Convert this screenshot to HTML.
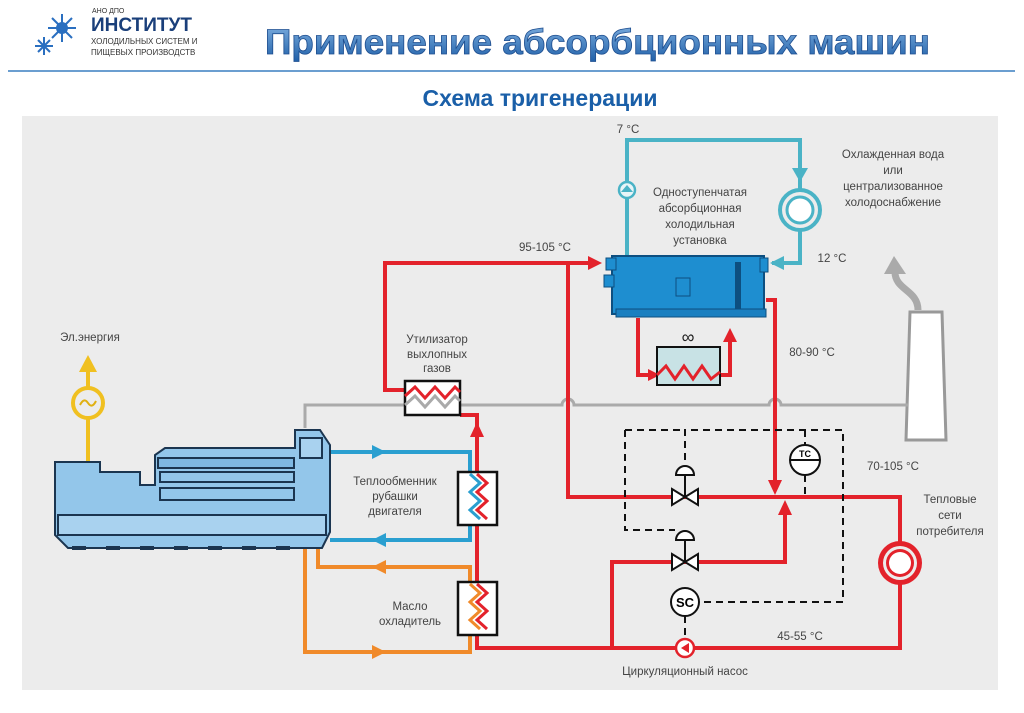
<!DOCTYPE html>
<html><head><meta charset="utf-8"><style>
body{margin:0;width:1024px;height:708px;background:#fff;overflow:hidden;font-family:"Liberation Sans",sans-serif}
</style></head><body>
<svg width="1024" height="708" viewBox="0 0 1024 708" xmlns="http://www.w3.org/2000/svg" font-family="Liberation Sans, sans-serif">
<defs>
<linearGradient id="tg" x1="0" y1="0" x2="0" y2="1"><stop offset="0" stop-color="#7fb0e0"/><stop offset="1" stop-color="#1f5fa8"/></linearGradient>
</defs>
<!-- header -->
<g fill="#2a6fc0" stroke="#2a6fc0" stroke-width="2">
<g transform="translate(62,28)"><line x1="-14" y1="0" x2="14" y2="0"/><line x1="0" y1="-14" x2="0" y2="14"/><line x1="-10" y1="-10" x2="10" y2="10"/><line x1="-10" y1="10" x2="10" y2="-10"/><circle r="5"/></g>
<g transform="translate(44,46)"><line x1="-9" y1="0" x2="9" y2="0"/><line x1="0" y1="-9" x2="0" y2="9"/><line x1="-6" y1="-6" x2="6" y2="6"/><line x1="-6" y1="6" x2="6" y2="-6"/></g>
</g>
<text x="92" y="13" font-size="7" fill="#333">АНО ДПО</text>
<text x="91" y="31" font-size="19" font-weight="bold" fill="#1a3f7a">ИНСТИТУТ</text>
<text x="91" y="44" font-size="8" fill="#333">ХОЛОДИЛЬНЫХ СИСТЕМ И</text>
<text x="91" y="55" font-size="8" fill="#333">ПИЩЕВЫХ ПРОИЗВОДСТВ</text>
<text x="265" y="54" font-size="35" font-weight="bold" fill="url(#tg)" stroke="#1f4f90" stroke-width="0.8" textLength="665" lengthAdjust="spacingAndGlyphs">Применение абсорбционных машин</text>
<line x1="8" y1="71" x2="1015" y2="71" stroke="#3a7fc0" stroke-width="1.5"/>
<text x="540" y="106" text-anchor="middle" font-size="23" font-weight="bold" fill="#1a5fa8">Схема тригенерации</text>
<!-- panel -->
<rect x="22" y="116" width="976" height="574" fill="#ececec"/>
<g font-size="11.5" fill="#444" text-anchor="middle">
<text x="628" y="133">7 °C</text>
<text x="700" y="196">Одноступенчатая</text><text x="700" y="212">абсорбционная</text><text x="700" y="228">холодильная</text><text x="700" y="244">установка</text>
<text x="893" y="158">Охлажденная вода</text><text x="893" y="174">или</text><text x="893" y="190">централизованное</text><text x="893" y="206">холодоснабжение</text>
<text x="832" y="262">12 °C</text>
<text x="545" y="251">95-105 °C</text>
<text x="812" y="356">80-90 °C</text>
<text x="437" y="343">Утилизатор</text><text x="437" y="358">выхлопных</text><text x="437" y="372">газов</text>
<text x="90" y="341">Эл.энергия</text>
<text x="395" y="485">Теплообменник</text><text x="395" y="500">рубашки</text><text x="395" y="515">двигателя</text>
<text x="410" y="610">Масло</text><text x="410" y="625">охладитель</text>
<text x="893" y="470">70-105 °C</text>
<text x="950" y="503">Тепловые</text><text x="950" y="519">сети</text><text x="950" y="535">потребителя</text>
<text x="800" y="640">45-55 °C</text>
<text x="685" y="675">Циркуляционный насос</text>
</g>
<!-- chimney -->
<polygon points="910,312 942,312 946,440 906,440" fill="#fff" stroke="#999" stroke-width="3"/>
<path d="M918 310 C918 290 895 290 895 272" fill="none" stroke="#aaa" stroke-width="7"/>
<polygon points="884,274 894,256 906,274" fill="#aaa"/>
<!-- gray exhaust -->
<path d="M305 428 V405 H562 a6 6 0 0 1 12 0 H769 a6 6 0 0 1 12 0 H908" fill="none" stroke="#aaa" stroke-width="3"/>
<!-- blue cold loop -->
<g stroke="#4ab3c6" stroke-width="4" fill="none">
<path d="M627 258 V140 H800 V263 H772"/>
</g>
<circle cx="627" cy="190" r="8" fill="#e8f5f8" stroke="#4ab3c6" stroke-width="2.5"/>
<polygon points="621,192 627,185 633,192" fill="#4ab3c6"/>
<polygon points="792,168 808,168 800,182" fill="#4ab3c6"/>
<circle cx="800" cy="210" r="20" fill="#ececec" stroke="#4ab3c6" stroke-width="4"/>
<circle cx="800" cy="210" r="13" fill="#fff" stroke="#4ab3c6" stroke-width="3"/>
<polygon points="784,256 784,270 770,263" fill="#4ab3c6"/>
<!-- chiller -->
<rect x="612" y="256" width="152" height="58" fill="#1e8ed0" stroke="#0d4f80" stroke-width="2"/>
<rect x="606" y="258" width="10" height="12" fill="#1e8ed0" stroke="#0d4f80"/>
<rect x="604" y="275" width="10" height="12" fill="#1e8ed0" stroke="#0d4f80"/>
<rect x="760" y="258" width="8" height="14" fill="#1e8ed0" stroke="#0d4f80"/>
<rect x="676" y="278" width="14" height="18" fill="none" stroke="#0d4f80"/>
<rect x="735" y="262" width="6" height="52" fill="#0d4f80"/>
<rect x="616" y="309" width="150" height="8" fill="#1a7fc0" stroke="#0d4f80"/>
<!-- red pipes -->
<g stroke="#e3222b" stroke-width="4" fill="none">
<path d="M405 390 H385 V263 H590"/>
<path d="M568 263 V497 H900 V648 H477 V415 H460"/>
<path d="M612 648 V562 H785 V515"/>
<path d="M766 300 H775 V482"/>
<path d="M638 318 V375 H652"/>
<path d="M720 375 H730 V340"/>
</g>
<polygon points="588,256 602,263 588,270" fill="#e3222b"/>
<polygon points="470,437 477,422 484,437" fill="#e3222b"/>
<polygon points="768,480 782,480 775,495" fill="#e3222b"/>
<polygon points="778,515 792,515 785,500" fill="#e3222b"/>
<polygon points="723,342 737,342 730,328" fill="#e3222b"/>
<polygon points="648,369 660,375 648,381" fill="#e3222b"/>
<!-- cooler box -->
<rect x="657" y="347" width="63" height="38" fill="#c8e2e5" stroke="#111" stroke-width="2"/>
<path d="M657 375 L666 366 L675 379 L684 366 L693 379 L702 366 L711 379 L720 372" fill="none" stroke="#e3222b" stroke-width="3"/>
<text x="688" y="343" text-anchor="middle" font-size="18" fill="#222">∞</text>
<circle cx="900" cy="563" r="22" fill="#e3222b"/><circle cx="900" cy="563" r="17" fill="#ececec"/><circle cx="900" cy="563" r="14" fill="#e3222b"/><circle cx="900" cy="563" r="11" fill="#fff"/>
<!-- utilizer -->
<rect x="405" y="381" width="55" height="34" fill="#fff" stroke="#111" stroke-width="2.5"/>
<path d="M405 396 L415 387 L425 398 L435 387 L445 398 L455 387 L460 392" fill="none" stroke="#e3222b" stroke-width="3"/>
<path d="M405 405 L415 396 L425 407 L435 396 L445 407 L455 396 L460 401" fill="none" stroke="#aaa" stroke-width="3"/>
<!-- jacket & oil loops -->
<g stroke="#2a9fd0" stroke-width="4" fill="none"><path d="M330 452 H470 V540 H330"/></g>
<polygon points="372,445 386,452 372,459" fill="#2a9fd0"/>
<polygon points="386,533 372,540 386,547" fill="#2a9fd0"/>
<g stroke="#f08a2a" stroke-width="4" fill="none"><path d="M318 545 V567 H470 V652 H305 V545"/></g>
<polygon points="386,560 372,567 386,574" fill="#f08a2a"/>
<polygon points="372,645 386,652 372,659" fill="#f08a2a"/>
<rect x="458" y="472" width="39" height="53" fill="#fff" stroke="#111" stroke-width="2.5"/>
<path d="M470 474 l10 9 -10 9 10 9 -10 9 10 9" fill="none" stroke="#2a9fd0" stroke-width="3"/>
<path d="M477 474 l10 9 -10 9 10 9 -10 9 10 9" fill="none" stroke="#e3222b" stroke-width="3"/>
<rect x="458" y="582" width="39" height="53" fill="#fff" stroke="#111" stroke-width="2.5"/>
<path d="M470 584 l10 9 -10 9 10 9 -10 9 10 9" fill="none" stroke="#f08a2a" stroke-width="3"/>
<path d="M477 584 l10 9 -10 9 10 9 -10 9 10 9" fill="none" stroke="#e3222b" stroke-width="3"/>
<!-- generator -->
<line x1="88" y1="365" x2="88" y2="462" stroke="#f0c020" stroke-width="4"/>
<polygon points="79,372 88,355 97,372" fill="#f0c020"/>
<circle cx="88" cy="403" r="15" fill="#ececec" stroke="#f0c020" stroke-width="4"/>
<path d="M80 405 q4 -8 8 -2 t8 -2" fill="none" stroke="#e0b010" stroke-width="2"/>
<!-- engine -->
<g stroke="#1b3550" stroke-width="2" fill="#93c6ea">
<path d="M55 462 H100 V472 H140 V485 H155 V455 L165 448 H295 V430 H320 L330 445 V532 L322 548 H68 L55 535 Z"/>
<rect x="158" y="458" width="136" height="10" fill="#7fb8e2"/>
<rect x="160" y="472" width="134" height="10"/>
<rect x="160" y="488" width="134" height="12"/>
<rect x="58" y="515" width="268" height="20" fill="#a9d2ef"/>
<rect x="300" y="438" width="22" height="20" fill="#a9d2ef"/>
</g>
<g fill="#1b3550"><rect x="72" y="546" width="14" height="4"/><rect x="106" y="546" width="14" height="4"/><rect x="140" y="546" width="14" height="4"/><rect x="174" y="546" width="14" height="4"/><rect x="208" y="546" width="14" height="4"/><rect x="242" y="546" width="14" height="4"/><rect x="276" y="546" width="14" height="4"/></g>
<!-- dashed control -->
<g stroke="#111" stroke-width="2" stroke-dasharray="7,5" fill="none">
<path d="M685 460 V430 H843 V602 H700"/>
<path d="M625 430 V530 H675"/>
<path d="M625 430 H685"/>
<path d="M805 430 V445 M805 475 V497"/>
<path d="M685 616 V638"/>
</g>
<g stroke="#111" stroke-width="2" fill="#fff">
<path d="M676 475 a9 9 0 0 1 18 0 Z"/><line x1="685" y1="475" x2="685" y2="497"/>
<polygon points="672,489 685,497 672,505"/><polygon points="698,489 685,497 698,505"/>
<path d="M676 540 a9 9 0 0 1 18 0 Z"/><line x1="685" y1="540" x2="685" y2="562"/>
<polygon points="672,554 685,562 672,570"/><polygon points="698,554 685,562 698,570"/>
<circle cx="805" cy="460" r="15"/><line x1="790" y1="460" x2="820" y2="460"/>
<circle cx="685" cy="602" r="14"/>
</g>
<text x="805" y="457" text-anchor="middle" font-size="9" font-weight="bold">TC</text>
<text x="685" y="607" text-anchor="middle" font-size="13" font-weight="bold">SC</text>
<circle cx="685" cy="648" r="9" fill="#fff" stroke="#e3222b" stroke-width="2.5"/>
<polygon points="689,643 681,648 689,653" fill="#e3222b"/>
</svg>
</body></html>
